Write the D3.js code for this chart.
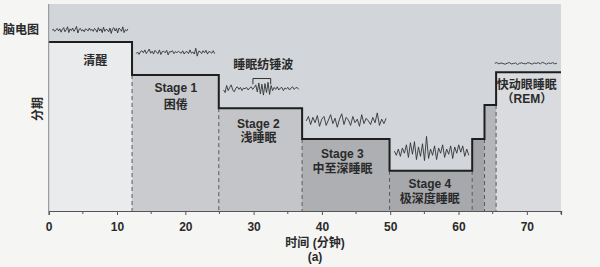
<!DOCTYPE html>
<html><head><meta charset="utf-8">
<script src="https://cdn.jsdelivr.net/npm/d3@7"></script>
<style>
html,body{margin:0;padding:0;background:#f5f5f4;}
svg{display:block;}
text{font-family:"Liberation Sans","Noto Sans CJK SC",Arial,sans-serif;font-weight:bold;fill:#2a2a2a;}
</style></head><body>
<svg id="c" width="600" height="267"></svg>
<script>
// ---- data ----
const stageNames = ["清醒", "Stage 1", "Stage 2", "Stage 3", "Stage 4", "", "", "快动眼睡眠"];
const stageSubs  = ["", "困倦", "浅睡眠", "中至深睡眠", "极深度睡眠", "", "", "（REM）"];
const stageStart = [0, 12.2, 24.9, 37.1, 49.9, 62.0, 63.8, 65.5];
const stageEnd   = [12.2, 24.9, 37.1, 49.9, 62.0, 63.8, 65.5, 75];
const stageLevel = [5.31, 4.27, 3.23, 2.26, 1.26, 2.26, 3.33, 4.36];
const xTicks = [0, 10, 20, 30, 40, 50, 60, 70];
const xMinorTicks = [5, 15, 25, 35, 45, 55, 65, 75];

const eegWake = [0,0.2,-0.3,0.1,0.4,-0.2,0.3,-0.5,0.2,0.6,-0.4,0.1,0.8,-0.6,0.3,-0.1,0.5,-0.3,0.2,0.9,-0.7,0.2,0.4,-0.2,0.1,-0.4,0.3,0.1,-0.2,0.5,-0.1,0.2,-0.3,0.4,0.1,-0.5,0.6,-0.2,0.3,-0.6,0.7,-0.3,0.2,0.1,-0.4,0.5,-0.8,0.3,0.6,-0.2,0.4,-0.7,0.5,0.2,-0.3,0.8,-0.6,0.1,-0.2,0.3];
const eegS1 = [-0.3,0.1,-0.5,0.2,0.4,-0.1,0.6,-0.3,0.2,0.8,-0.2,0.3,-0.4,0.5,0.1,-0.3,0.6,-0.5,0.2,0.3,-0.1,0.5,-0.6,0.2,0.1,0.4,-0.3,0.2,-0.1,0.3,0.0,-0.2,0.4,-0.4,0.1,0.2,-0.3,0.6,-0.2,0.1,-0.4,1.0,-0.9,0.3,0.2,-0.3,0.4,-0.1,0.5,-0.4,0.2,0.1,-0.2,0.4,-0.3];
const eegS2 = [-0.2,-0.6,0.5,-0.3,0.2,0.6,-0.2,-0.5,0.1,0.3,-0.1,0.2,-0.3,0.1,0.0,0.2,-0.2,0.1,0.3,-0.1,0.2,0.6,-0.5,0.9,-0.8,0.7,-1.0,0.8,-0.6,1.0,-0.9,0.5,-0.3,0.2,-0.1,0.3,-0.2,0.1,0.2,-0.3,0.1,0.0,0.2,-0.2,0.1,0.3,-0.1,0.1,0.2,-0.1];
const eegS3 = [0.1,0.6,-0.3,0.5,-0.1,0.7,-0.5,0.3,0.6,-0.4,0.2,0.8,-0.2,0.4,-0.6,0.3,0.9,-0.3,0.5,0.2,-0.4,0.6,-0.1,0.3,-0.5,0.8,-0.2,0.4,0.1,-0.3,0.5,-0.1,1.0,-0.4,0.3,-0.2,0.4];
const eegS4 = [0.0,-0.4,0.2,-0.5,0.3,-0.2,0.6,-0.6,0.8,-0.3,0.9,-0.8,0.4,-0.5,0.7,-0.9,1.4,-0.7,0.2,-0.4,0.5,-0.8,0.3,-0.2,0.6,-0.6,0.2,-0.3,0.5,-0.7,0.4,-0.2,0.6,-0.1,0.5,-0.5,0.2,-0.4];
const eegREM = [0.1,0.3,-0.1,0.2,0.0,-0.2,0.1,0.3,-0.1,0.0,0.2,-0.3,0.1,0.2,0.0,-0.1,0.3,0.1,-0.2,0.2,0.0,0.3,-0.1,0.4,0.1,-0.2,0.2,0.0,0.3,-0.1,0.1];

// ---- layout ----
const svg = d3.select("#c");
const x = d3.scaleLinear().domain([0, 75]).range([48.7, 561]);
const y = d3.scaleLinear().domain([0, 6.5]).range([211, 4]);
const fills = ["#e9ebed", "#c9cbce", "#c3c5c8", "#adafb3", "#a6a8ac", "#a2a4a8", "#b4b6b9", "#d9dbde"];

// plot background
svg.append("rect").attr("x", x(0)).attr("y", y(6.5)).attr("width", x(75) - x(0)).attr("height", y(0) - y(6.5)).attr("fill", "#d2d5da");

// stage regions
const idx = d3.range(stageStart.length);
svg.selectAll("rect.stage").data(idx).join("rect").attr("class", "stage")
  .attr("x", i => x(stageStart[i])).attr("width", i => x(stageEnd[i]) - x(stageStart[i]))
  .attr("y", i => y(stageLevel[i])).attr("height", i => y(0) - y(stageLevel[i]))
  .attr("fill", i => fills[i]);

// dashed transitions
svg.selectAll("line.dash").data(idx.slice(1)).join("line").attr("class", "dash")
  .attr("x1", i => x(stageStart[i])).attr("x2", i => x(stageStart[i]))
  .attr("y1", i => y(Math.min(stageLevel[i], stageLevel[i - 1]))).attr("y2", y(0))
  .attr("stroke", "#5a5a5a").attr("stroke-width", 1).attr("stroke-dasharray", "4,3");

// step line
const pts = [];
idx.forEach(i => { pts.push([stageStart[i], stageLevel[i]]); pts.push([stageEnd[i], stageLevel[i]]); });
svg.append("path").datum(pts)
  .attr("d", d3.line().x(d => x(d[0])).y(d => y(d[1])))
  .attr("fill", "none").attr("stroke", "#1e1e1e").attr("stroke-width", 2);

// left border
svg.append("line").attr("x1", x(0)).attr("x2", x(0)).attr("y1", y(6.5)).attr("y2", y(0)).attr("stroke", "#8a8c90").attr("stroke-width", 1);

// axis
const ax = svg.append("g").attr("transform", `translate(0,${y(0)})`);
ax.call(d3.axisBottom(x).tickValues(xTicks).tickSize(4).tickPadding(7).tickFormat(d3.format("d")));
ax.select(".domain").attr("stroke", "#555").attr("stroke-width", 1.2);
ax.selectAll(".tick line").attr("stroke", "#555");
ax.selectAll(".tick text").style("font-size", "12px").style("font-weight", "bold").attr("fill", "#2a2a2a")
  .style("font-family", "Liberation Sans, Arial, sans-serif");
ax.selectAll("line.minor").data(xMinorTicks).join("line").attr("class", "minor")
  .attr("x1", d => x(d)).attr("x2", d => x(d)).attr("y1", 0).attr("y2", 3).attr("stroke", "#555");

// EEG traces
const traces = [
  {v: eegWake, s: 0.5, e: 11.6, lvl: 5.68, amp: 0.13},
  {v: eegS1, s: 12.8, e: 24.3, lvl: 4.98, amp: 0.13},
  {v: eegS2, s: 25.6, e: 36.6, lvl: 3.84, amp: 0.2},
  {v: eegS3, s: 37.7, e: 49.4, lvl: 2.8, amp: 0.28},
  {v: eegS4, s: 50.6, e: 61.5, lvl: 1.88, amp: 0.33},
  {v: eegREM, s: 65.3, e: 74.4, lvl: 4.63, amp: 0.1}
];
traces.forEach(t => {
  const xi = d3.scaleLinear().domain([0, t.v.length - 1]).range([t.s, t.e]);
  svg.append("path").datum(t.v)
    .attr("d", d3.line().x((d, i) => x(xi(i))).y(d => y(t.lvl + d * t.amp)))
    .attr("fill", "none").attr("stroke", "#333").attr("stroke-width", 0.9);
});

// spindle bracket
const bx0 = 29.9, bx1 = 32.5, by = 4.16, byl = 3.98;
svg.append("path").attr("d", `M${x(bx0)},${y(byl)}V${y(by)}H${x(bx1)}V${y(byl)}`)
  .attr("fill", "none").attr("stroke", "#333").attr("stroke-width", 1);
svg.append("text").attr("x", x(31.4)).attr("y", 69).attr("text-anchor", "middle").style("font-size", "12px").text("睡眠纺锤波");

// stage labels
const labelX = [6.8, 18.6, 30.7, 43.0, 55.8, 0, 0, 70.0];
const labelY1 = [65, 92, 128, 158, 188, 0, 0, 89];
const labelY2 = [0, 109, 142, 173, 203, 0, 0, 103];
idx.forEach(i => {
  if (stageNames[i]) svg.append("text").attr("x", x(labelX[i])).attr("y", labelY1[i]).attr("text-anchor", "middle").style("font-size", "12px").text(stageNames[i]);
  if (stageSubs[i]) svg.append("text").attr("x", x(labelX[i])).attr("y", labelY2[i]).attr("text-anchor", "middle").style("font-size", "12px").text(stageSubs[i]);
});

// side labels
svg.append("text").attr("x", 3).attr("y", 34).style("font-size", "12px").text("脑电图");
svg.append("text").attr("transform", "translate(42,109) rotate(-90)").attr("text-anchor", "middle").style("font-size", "12px").text("分期");
svg.append("text").attr("x", 315).attr("y", 247).attr("text-anchor", "middle").style("font-size", "12px").text("时间 (分钟)");
svg.append("text").attr("x", 315).attr("y", 261).attr("text-anchor", "middle").style("font-size", "12px").text("(a)");
</script>
</body></html>
